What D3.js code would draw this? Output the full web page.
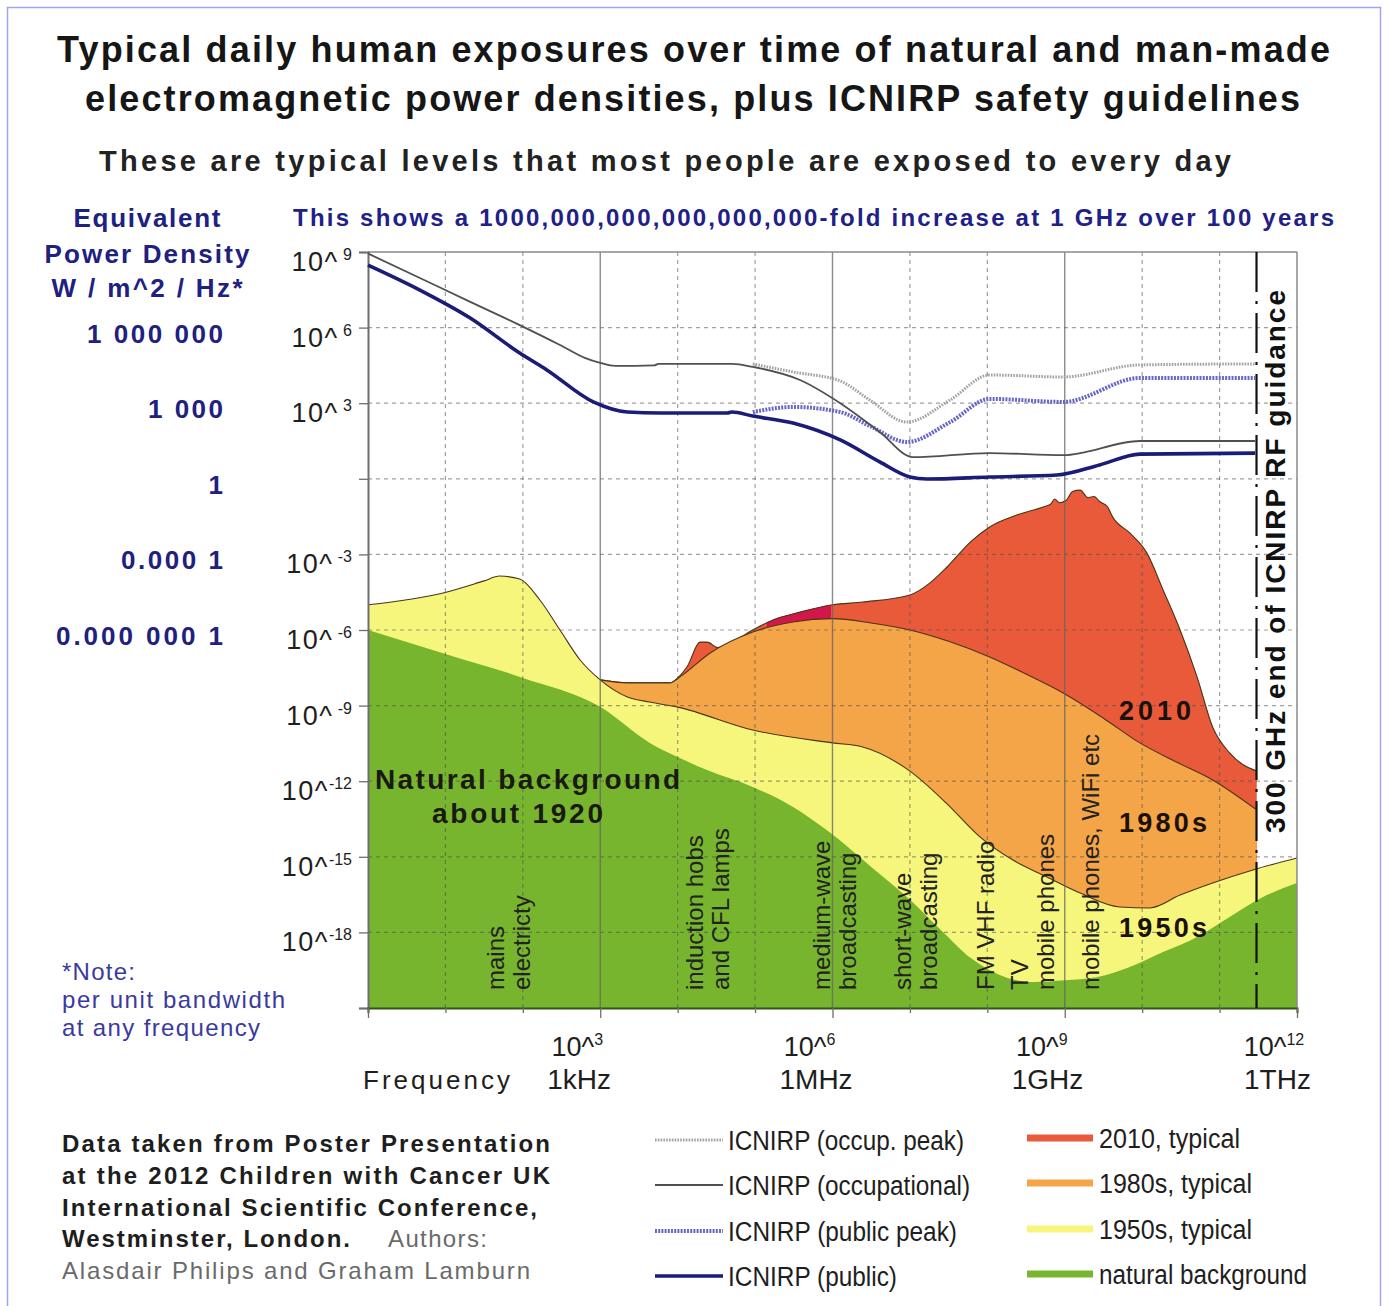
<!DOCTYPE html>
<html>
<head>
<meta charset="utf-8">
<script src="https://cdn.jsdelivr.net/npm/d3@7"></script>
<style>
  body { margin: 0; background: #fff; }
  svg { display: block; font-family: "Liberation Sans", Arial, Helvetica, sans-serif; }
</style>
</head>
<body>
<svg id="chart" width="1388" height="1306"></svg>
<script>
// Every point is [log10(frequency / Hz), log10(power density / W m^-2 Hz^-1)]
const naturalBackground = [
  [0, -6.0], [1, -6.95], [2, -7.9], [3, -9.05], [3.64, -10.48], [4.0, -11.04],
  [4.38, -11.56], [4.97, -12.23], [5.49, -13.02], [5.95, -14.0], [6.5, -15.4],
  [7.0, -16.7], [7.4, -17.9], [7.8, -19.05], [8.25, -19.8], [8.6, -19.97],
  [9.0, -19.9], [9.42, -19.77], [9.84, -19.37], [10.27, -18.78], [10.71, -18.18],
  [11.13, -17.39], [11.56, -16.6], [12, -16.04]
];
const typical1950s = [
  [0, -5.0], [0.97, -4.53], [1.5, -4.05], [1.7, -3.86], [1.96, -3.98], [2.22, -4.81],
  [2.48, -6.0], [2.74, -7.19], [3.0, -7.98], [3.35, -8.66], [3.64, -8.86], [4.0, -9.06],
  [4.97, -9.97], [6.0, -10.48], [6.39, -10.64], [7.0, -11.6], [7.47, -12.87],
  [7.9, -14.2], [8.33, -15.13], [8.77, -15.8], [9.2, -16.44], [9.71, -16.99],
  [10.1, -17.03], [10.49, -16.52], [10.91, -16.04], [11.43, -15.52], [12, -15.05]
];
const typical1980s = [
  [3.0, -7.98], [3.35, -8.1], [3.9, -8.1], [4.03, -7.86], [4.42, -6.91], [4.97, -6.08],
  [5.49, -5.68], [6.0, -5.55], [6.5, -5.72], [7.0, -6.0], [7.5, -6.45], [8.03, -7.07],
  [8.5, -7.75], [8.98, -8.5], [9.5, -9.5], [9.97, -10.48], [10.45, -11.25],
  [10.91, -11.95], [11.48, -13.14]
];
const typical2010 = [
  [3.0, -7.98], [3.35, -8.1], [3.9, -8.1], [4.0, -7.9], [4.12, -7.47], [4.29, -6.48],
  [4.38, -6.48], [4.52, -6.7], [4.6, -6.64], [4.97, -6.0], [5.23, -5.6], [5.58, -5.29],
  [6.0, -5.0], [6.39, -4.89], [7.0, -4.61], [7.26, -4.13], [7.48, -3.5], [7.78, -2.51],
  [8.03, -1.91], [8.38, -1.44], [8.72, -1.12], [8.82, -1.0], [8.87, -0.8], [8.93, -0.95],
  [9.02, -0.85], [9.1, -0.5], [9.2, -0.45], [9.3, -0.75], [9.38, -0.7], [9.45, -0.9],
  [9.55, -1.1], [9.62, -1.52], [9.84, -2.15], [10.06, -2.94], [10.27, -4.41],
  [10.49, -6.0], [10.71, -7.87], [10.91, -9.85], [11.13, -10.88], [11.48, -11.6]
];
// stretch of the 2010 band shown in a deeper red
const deepRedSpan = [5.15, 5.98];

const icnirpOccupational = [
  [0, 8.94], [0.67, 7.97], [1.3, 7.05], [1.96, 6.1], [2.48, 5.31], [2.8, 4.8],
  [3.0, 4.6], [3.19, 4.48], [3.7, 4.5], [3.75, 4.56], [4.71, 4.56], [4.97, 4.44],
  [5.58, 3.92], [6.1, 3.0], [6.61, 1.86], [7.04, 0.86], [8.03, 1.02], [8.98, 0.94],
  [9.97, 1.5], [11.46, 1.5]
];
const icnirpPublic = [
  [0, 8.48], [0.67, 7.49], [1.32, 6.38], [1.96, 4.99], [2.31, 4.32], [2.91, 3.05],
  [3.35, 2.65], [3.77, 2.61], [4.64, 2.61], [4.7, 2.65], [4.97, 2.49], [5.49, 2.21],
  [6.1, 1.54], [6.61, 0.67], [7.0, 0.07], [7.22, -0.01], [8.03, 0.07], [8.9, 0.15],
  [9.45, 0.55], [9.97, 0.98], [11.46, 1.02]
];
const icnirpOccupPeak = [
  [4.97, 4.56], [5.49, 4.24], [6.1, 3.88], [6.48, 3.13], [6.96, 2.25], [7.52, 3.13],
  [8.03, 4.12], [8.98, 4.04], [9.97, 4.52], [11.46, 4.56]
];
const icnirpPublicPeak = [
  [4.97, 2.65], [5.49, 2.85], [6.1, 2.65], [6.48, 2.1], [6.96, 1.46], [7.52, 2.25],
  [8.03, 3.17], [8.98, 3.05], [9.97, 4.0], [11.46, 4.0]
];

const yTickExponents = [9, 6, 3, 0, -3, -6, -9, -12, -15, -18];
const yTickLabels = [" 9", " 6", " 3", "", " -3", " -6", " -9", "-12", "-15", "-18"];
const xTickExponents = [3, 6, 9, 12];
const xTickLabels = ["3", "6", "9", "12"];
const xUnitLabels = ["1kHz", "1MHz", "1GHz", "1THz"];
const equivalentLabels = ["1 000 000", "1 000", "1", "0.000 1", "0.000 000 1"];
const equivalentRows = [6, 3, 0, -3, -6];
const guidanceLimit = Math.log10(3e11);   // 300 GHz

const bandLabels = [
  { f: 1.65, lines: ["mains", "electricty"] },
  { f: 4.22, lines: ["induction hobs", "and CFL lamps"] },
  { f: 5.86, lines: ["medium-wave", "broadcasting"] },
  { f: 6.91, lines: ["short-wave", "broadcasting"] },
  { f: 7.97, lines: ["FM VHF radio"] },
  { f: 8.42, lines: ["TV", "mobile phones"] },
  { f: 9.33, lines: ["mobile phones, WiFi etc"] }
];

const bandSeries = [
  { name: "2010, typical", data: typical2010, fill: "#e95a3a" },
  { name: "1980s, typical", data: typical1980s, fill: "#f4a547" },
  { name: "1950s, typical", data: typical1950s, fill: "#f6f67c" },
  { name: "natural background", data: naturalBackground, fill: "#77b52e" }
];

// ---------------------------------------------------------------
const svg = d3.select("#chart");
const x = d3.scaleLinear().domain([0, 12]).range([368, 1297]);
const y = d3.scaleLinear().domain([-21, 9]).range([1008, 252]);

svg.append("rect").attr("width", 1388).attr("height", 1306).attr("fill", "#fff");
svg.append("rect").attr("x", 7.5).attr("y", 7.5).attr("width", 1373).attr("height", 1310)
  .attr("fill", "none").attr("stroke", "#a4a4ee").attr("stroke-width", 1.5);

function fit(sel, len, adjust) {
  if (len) sel.attr("textLength", len).attr("lengthAdjust", adjust || "spacing");
  return sel;
}

// ---- stacked exposure bands ----
const area = d3.area().x(d => x(d[0])).y0(y(-21)).y1(d => y(d[1])).curve(d3.curveMonotoneX);
const topLine = d3.line().x(d => x(d[0])).y(d => y(d[1])).curve(d3.curveMonotoneX);

svg.append("clipPath").attr("id", "deepRedClip").append("rect")
  .attr("x", x(deepRedSpan[0])).attr("width", x(deepRedSpan[1]) - x(deepRedSpan[0]))
  .attr("y", y(9)).attr("height", y(-21) - y(9));

const bands = svg.append("g");
bandSeries.forEach((s, i) => {
  bands.append("path").attr("d", area(s.data)).attr("fill", s.fill);
  if (i === 0) {
    bands.append("path").attr("d", area(s.data)).attr("fill", "#d3174b")
      .attr("clip-path", "url(#deepRedClip)");
  }
  if (s.data !== naturalBackground) {
    bands.append("path").attr("d", topLine(s.data)).attr("fill", "none")
      .attr("stroke", "#4b3318").attr("stroke-width", 1.1);
  }
});

// ---- grid ----
const grid = svg.append("g");
grid.selectAll("line.h").data(d3.range(-18, 9, 3)).join("line")
  .attr("x1", x(0)).attr("x2", x(12)).attr("y1", d => y(d)).attr("y2", d => y(d))
  .attr("stroke", "rgba(80,80,80,0.55)").attr("stroke-width", 1.2).attr("stroke-dasharray", "4,4");
grid.selectAll("line.v").data(d3.range(1, 12)).join("line")
  .attr("x1", d => x(d)).attr("x2", d => x(d)).attr("y1", y(9)).attr("y2", y(-21))
  .attr("stroke", d => d % 3 === 0 ? "rgba(100,100,100,0.75)" : "rgba(80,80,80,0.55)")
  .attr("stroke-width", d => d % 3 === 0 ? 1.4 : 1.2)
  .attr("stroke-dasharray", d => d % 3 === 0 ? null : "4,4");

// frame of the plot
svg.append("line").attr("x1", x(0)).attr("x2", x(12)).attr("y1", y(9)).attr("y2", y(9))
  .attr("stroke", "#8a8a8a").attr("stroke-width", 1.5);
svg.append("line").attr("x1", x(12)).attr("x2", x(12)).attr("y1", y(9)).attr("y2", y(-21))
  .attr("stroke", "#8a8a8a").attr("stroke-width", 1.5);

// ---- axes ----
const yAxis = svg.append("g").attr("transform", `translate(${x(0)},0)`)
  .call(d3.axisLeft(y).tickValues(d3.range(-21, 10, 3)).tickSize(9).tickFormat(""));
yAxis.select(".domain").attr("stroke", "#6e6e6e").attr("stroke-width", 2);
yAxis.selectAll(".tick line").attr("stroke", "#6e6e6e").attr("stroke-width", 1.3);

const xAxis = svg.append("g").attr("transform", `translate(0,${y(-21)})`)
  .call(d3.axisBottom(x).tickValues(d3.range(0, 13)).tickSize(5).tickFormat(""));
xAxis.select(".domain").attr("stroke", "#35521a").attr("stroke-width", 2);
xAxis.selectAll(".tick line").attr("stroke", "#6e6e6e").attr("stroke-width", 1.3)
  .attr("y2", d => d % 3 === 0 ? 10 : 5);

// y tick labels, "10^" with a raised exponent
yTickExponents.forEach((e, i) => {
  if (!yTickLabels[i]) return;
  const t = svg.append("text").attr("x", 352).attr("y", y(e) + 19)
    .attr("text-anchor", "end").attr("fill", "#1e1e1e").attr("font-size", 27);
  t.append("tspan").text("10^").attr("letter-spacing", 1.5);
  t.append("tspan").text(yTickLabels[i]).attr("font-size", 16).attr("dy", -11);
});

// x tick labels and unit names
xTickExponents.forEach((e, i) => {
  const t = svg.append("text").attr("x", x(e) - 23).attr("y", 1056)
    .attr("text-anchor", "middle").attr("fill", "#1e1e1e").attr("font-size", 27);
  t.append("tspan").text("10^");
  t.append("tspan").text(xTickLabels[i]).attr("font-size", 16).attr("dy", -11);
  svg.append("text").attr("x", x(e) - 53).attr("y", 1089).attr("fill", "#1e1e1e")
    .attr("font-size", 28).text(xUnitLabels[i]);
});
fit(svg.append("text").attr("x", 363).attr("y", 1089).attr("fill", "#1e1e1e")
  .attr("font-size", 26).text("Frequency"), 147);

// ---- 300 GHz limit ----
svg.append("line").attr("x1", x(guidanceLimit)).attr("x2", x(guidanceLimit))
  .attr("y1", y(9)).attr("y2", y(-21))
  .attr("stroke", "#111").attr("stroke-width", 2.2).attr("stroke-dasharray", "40,9,3,9");
fit(svg.append("text").attr("transform", `translate(${x(guidanceLimit) + 19},833) rotate(-90)`)
  .attr("dominant-baseline", "central").attr("font-weight", "bold").attr("font-size", 28)
  .attr("fill", "#111").text("300 GHz end of ICNIRP RF guidance"), 543);

// ---- ICNIRP guideline curves ----
const guideLine = d3.line().x(d => x(d[0])).y(d => y(d[1])).curve(d3.curveMonotoneX);
const guideStyles = [
  { data: icnirpOccupPeak, stroke: "#a3a3a3", width: 3, dash: "1.6,1.2" },
  { data: icnirpPublicPeak, stroke: "#6767c6", width: 4, dash: "2,1.2" },
  { data: icnirpOccupational, stroke: "#505050", width: 1.8, dash: null },
  { data: icnirpPublic, stroke: "#1b1b78", width: 3.6, dash: null }
];
guideStyles.forEach(s => {
  svg.append("path").attr("d", guideLine(s.data)).attr("fill", "none")
    .attr("stroke", s.stroke).attr("stroke-width", s.width)
    .attr("stroke-dasharray", s.dash).attr("stroke-linejoin", "round");
});

// ---- labels inside the plot ----
fit(svg.append("text").attr("x", 375).attr("y", 789).attr("font-weight", "bold")
  .attr("font-size", 28).attr("fill", "#1a1a12").text("Natural background"), 305);
fit(svg.append("text").attr("x", 432).attr("y", 823).attr("font-weight", "bold")
  .attr("font-size", 28).attr("fill", "#1a1a12").text("about 1920"), 171);

const eraLabels = [["2010", 720, 72], ["1980s", 832, 88], ["1950s", 937, 88]];
eraLabels.forEach(([txt, by, len]) => {
  fit(svg.append("text").attr("x", x(9.7)).attr("y", by).attr("font-weight", "bold")
    .attr("font-size", 27).attr("fill", "#1a1208").text(txt), len);
});

bandLabels.forEach(b => {
  b.lines.forEach((ln, j) => {
    svg.append("text")
      .attr("transform", `translate(${x(b.f) + j * 25.5},990) rotate(-90)`)
      .attr("dominant-baseline", "central").attr("font-size", 24).attr("fill", "#222")
      .text(ln);
  });
});

// ---- titles ----
fit(svg.append("text").attr("x", 57).attr("y", 62).attr("font-weight", "bold")
  .attr("font-size", 36).attr("fill", "#161616")
  .text("Typical daily human exposures over time of natural and man-made"), 1273);
fit(svg.append("text").attr("x", 85).attr("y", 111).attr("font-weight", "bold")
  .attr("font-size", 36).attr("fill", "#161616")
  .text("electromagnetic power densities, plus ICNIRP safety guidelines"), 1215);
fit(svg.append("text").attr("x", 99).attr("y", 171).attr("font-weight", "bold")
  .attr("font-size", 29).attr("fill", "#222")
  .text("These are typical levels that most people are exposed to every day"), 1132);
fit(svg.append("text").attr("x", 293).attr("y", 226).attr("font-weight", "bold")
  .attr("font-size", 24).attr("fill", "#202088")
  .text("This shows a 1000,000,000,000,000,000-fold increase at 1 GHz over 100 years"), 1041);

// left-hand equivalent power density scale
[["Equivalent", 227, 147], ["Power Density", 263, 205], ["W / m^2 / Hz*", 297, 191]]
  .forEach(([txt, by, len]) => {
    fit(svg.append("text").attr("x", 147).attr("y", by).attr("text-anchor", "middle")
      .attr("font-weight", "bold").attr("font-size", 26).attr("fill", "#202080").text(txt), len);
  });
const equivLengths = [136, 75, 0, 102, 167];
equivalentLabels.forEach((lab, i) => {
  fit(svg.append("text").attr("x", 223).attr("y", y(equivalentRows[i]) + 15)
    .attr("text-anchor", "end").attr("font-weight", "bold").attr("font-size", 26)
    .attr("fill", "#202080").text(lab), equivLengths[i]);
});

// note
[["*Note:", 980, 73], ["per unit bandwidth", 1008, 223], ["at any frequency", 1036, 198]]
  .forEach(([txt, by, len]) => {
    fit(svg.append("text").attr("x", 62).attr("y", by).attr("font-size", 24)
      .attr("fill", "#3a3a9e").text(txt), len);
  });

// source
[["Data taken from Poster Presentation", 1152, 488],
 ["at the 2012 Children with Cancer UK", 1184, 488],
 ["International Scientific Conference,", 1216, 475],
 ["Westminster, London.", 1247, 288]].forEach(([txt, by, len]) => {
  fit(svg.append("text").attr("x", 62).attr("y", by).attr("font-size", 24)
    .attr("font-weight", "bold").attr("fill", "#1e1e1e").text(txt), len);
});
fit(svg.append("text").attr("x", 388).attr("y", 1247).attr("font-size", 24)
  .attr("fill", "#6a6a6a").text("Authors:"), 99);
fit(svg.append("text").attr("x", 62).attr("y", 1279).attr("font-size", 24)
  .attr("fill", "#6a6a6a").text("Alasdair Philips and Graham Lamburn"), 468);

// ---- legend ----
const legendLines = [
  { name: "ICNIRP (occup. peak)", s: guideStyles[0], len: 236 },
  { name: "ICNIRP (occupational)", s: guideStyles[2], len: 242 },
  { name: "ICNIRP (public peak)", s: guideStyles[1], len: 229 },
  { name: "ICNIRP (public)", s: guideStyles[3], len: 169 }
];
const legendRows = [1140, 1185, 1231, 1276];
legendLines.forEach((l, i) => {
  const cy = legendRows[i];
  svg.append("line").attr("x1", 655).attr("x2", 723).attr("y1", cy).attr("y2", cy)
    .attr("stroke", l.s.stroke).attr("stroke-width", l.s.width).attr("stroke-dasharray", l.s.dash);
  fit(svg.append("text").attr("x", 728).attr("y", cy + 10).attr("font-size", 27)
    .attr("fill", "#1e1e1e").text(l.name), l.len, "spacingAndGlyphs");
});
const legendBandLengths = [141, 153, 153, 208];
bandSeries.forEach((s, i) => {
  const cy = legendRows[i] - 2;
  svg.append("rect").attr("x", 1027).attr("y", cy - 3.5).attr("width", 66).attr("height", 7)
    .attr("fill", s.fill);
  fit(svg.append("text").attr("x", 1099).attr("y", cy + 10).attr("font-size", 27)
    .attr("fill", "#1e1e1e").text(s.name), legendBandLengths[i], "spacingAndGlyphs");
});
</script>
</body>
</html>
